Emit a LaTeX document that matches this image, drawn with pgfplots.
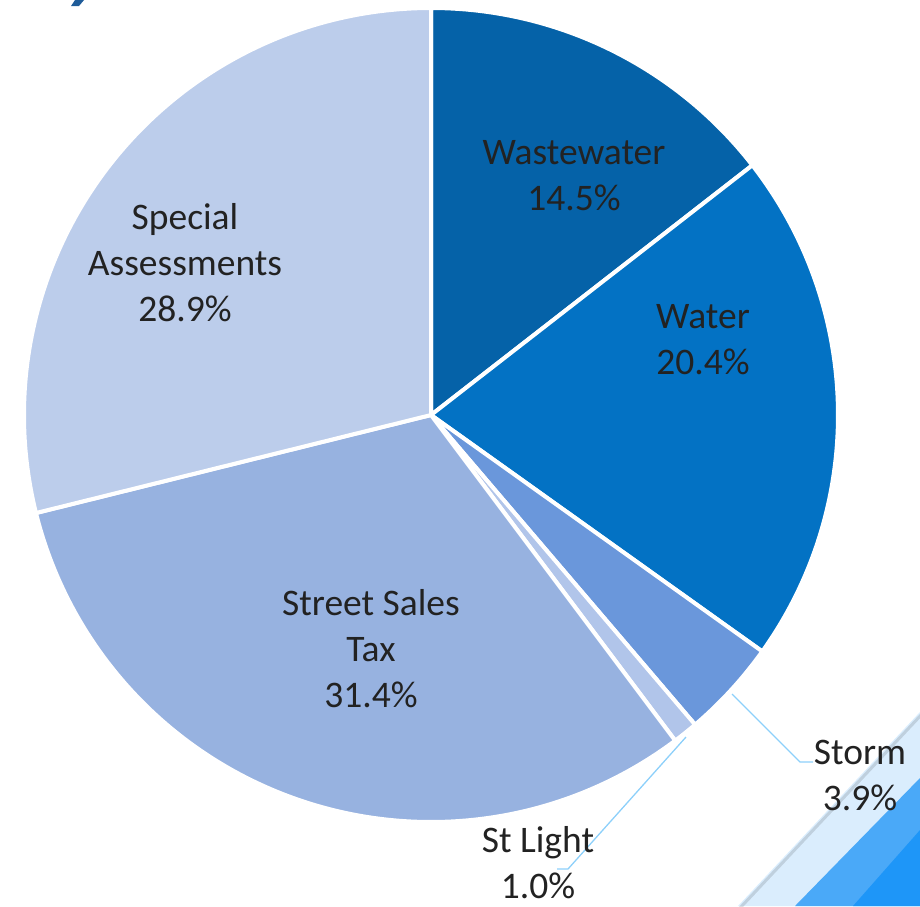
\documentclass[border=0pt]{standalone}
\usepackage{pgfplots}
\pgfplotsset{compat=1.18}
\usepackage{pgfplotstable}
\usepackage{fontspec}
\setmainfont{Carlito}
\definecolor{slice0}{HTML}{0562A8}
\definecolor{slice1}{HTML}{0372C4}
\definecolor{slice2}{HTML}{6A97DB}
\definecolor{slice3}{HTML}{B1C5EA}
\definecolor{slice4}{HTML}{97B2E0}
\definecolor{slice5}{HTML}{BCCDEB}
\definecolor{txt}{HTML}{222222}
\definecolor{leader}{HTML}{8DD0FA}
\definecolor{decoA}{HTML}{DAEDFD}
\definecolor{decoB}{HTML}{4AA9F8}
\definecolor{decoC}{HTML}{1E96F8}
\definecolor{titleblue}{HTML}{1F5C99}

\pgfplotstableread{
idx label value
0 Wastewater 14.5
1 Water 20.4
2 Storm 3.9
3 StLight 1.0
4 StreetSalesTax 31.4
5 SpecialAssessments 28.9
}\piedata

\xdef\cumangle{90}
\foreach \i in {0,...,5}{%
  \pgfplotstablegetelem{\i}{value}\of\piedata
  \pgfmathsetmacro\sp{\pgfplotsretval*360/100.1}%
  \pgfmathsetmacro\endang{\cumangle-\sp}%
  \expandafter\xdef\csname sS\i\endcsname{\cumangle}%
  \expandafter\xdef\csname sE\i\endcsname{\endang}%
  \xdef\cumangle{\endang}%
}

\begin{document}
\begin{tikzpicture}[
  lbl/.style={text=txt, align=center, font={\fontsize{37.5}{46}\selectfont}, inner sep=0pt},
]
\begin{axis}[
  width=920pt, height=906pt, scale only axis,
  xmin=0, xmax=920, ymin=0, ymax=906, y dir=reverse,
  hide axis, clip=true,
]
% slide decoration
\fill[decoA] (axis cs:920,712) -- (axis cs:738,906) -- (axis cs:920,906) -- cycle;
\draw[black, opacity=0.12, line width=3pt] (axis cs:922,714) -- (axis cs:740,908);
\fill[decoB] (axis cs:920,778) -- (axis cs:795,906) -- (axis cs:920,906) -- cycle;
\fill[decoC] (axis cs:920,830) -- (axis cs:853,906) -- (axis cs:920,906) -- cycle;
\fill[titleblue] (axis cs:75,0) -- (axis cs:84,0) -- (axis cs:79,6) -- (axis cs:71,6) -- cycle;
% pie slices
\pgfplotsinvokeforeach{0,...,5}{
  \filldraw[fill=slice#1, draw=white, line width=4pt, line join=round]
    (axis cs:431,415) -- ++(\csname sS#1\endcsname:407pt)
    arc[start angle=\csname sS#1\endcsname, end angle=\csname sE#1\endcsname, radius=407pt] -- cycle;
}
% leader lines
\draw[leader, line width=1.3pt] (axis cs:732,694) -- (axis cs:800,762) -- (axis cs:813,762);
\draw[leader, line width=1.3pt] (axis cs:686,737) -- (axis cs:568,869) -- (axis cs:557,869);
% labels
\node[lbl] at (axis cs:574,176) {Wastewater\\14.5\%};
\node[lbl] at (axis cs:703,340) {Water\\20.4\%};
\node[lbl] at (axis cs:185,263) {Special\\Assessments\\28.9\%};
\node[lbl] at (axis cs:371,649) {Street Sales\\Tax\\31.4\%};
\node[lbl] at (axis cs:860,775) {Storm\\3.9\%};
\node[lbl] at (axis cs:538,863) {St Light\\1.0\%};
\end{axis}
\path (current axis.south west) rectangle (current axis.north east);
\end{tikzpicture}
\end{document}
